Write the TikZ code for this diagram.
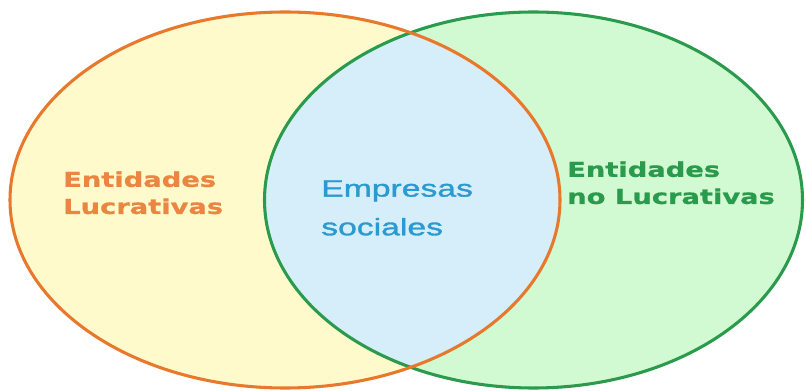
\documentclass[tikz,border=0pt]{standalone}
\usepackage{fontspec}
\usepackage{xcolor}
\usepackage{tikz}

\newfontfamily\lucrfont[FakeStretch=1.33, FakeBold=0.8]{DejaVu Sans}
\newfontfamily\socfont[FakeStretch=1.42, FakeBold=1.4]{Liberation Sans}

\definecolor{lucrline}{HTML}{E8782C}
\definecolor{lucrfill}{HTML}{FFFACB}
\definecolor{nolucrline}{HTML}{2A9A4C}
\definecolor{nolucrfill}{HTML}{D2FAD2}
\definecolor{socfill}{HTML}{D5EEFA}
\definecolor{soctext}{HTML}{2B9AD0}

\begin{document}
\begin{tikzpicture}[x=0.75pt, y=-0.75pt, every node/.style={align=left, inner sep=0pt, anchor=north west}]
    \useasboundingbox (0,0) rectangle (806,391);
    \fill[lucrfill] (285,200) ellipse [x radius=275, y radius=188];
    \fill[nolucrfill] (533.5,200) ellipse [x radius=269, y radius=188];
    \begin{scope}
        \clip (285,200) ellipse [x radius=275, y radius=188];
        \fill[socfill] (533.5,200) ellipse [x radius=269, y radius=188];
    \end{scope}
    \draw[nolucrline, line width=2.3pt] (533.5,200) ellipse [x radius=269, y radius=188];
    \draw[lucrline, line width=2.3pt] (285,200) ellipse [x radius=275, y radius=188];

    \node[text=lucrline!90!white, font=\lucrfont\bfseries\fontsize{15.4}{20.3}\selectfont] (lucr) at (63,171) {Entidades\\Lucrativas};
    \node[text=soctext, font=\socfont\fontsize{17.8}{29}\selectfont] (soc) at (321,180) {Empresas\\sociales};
    \node[text=nolucrline, font=\lucrfont\bfseries\fontsize{15.4}{20.3}\selectfont] (nolucr) at (567,161) {Entidades\\no Lucrativas};
\end{tikzpicture}
\end{document}
